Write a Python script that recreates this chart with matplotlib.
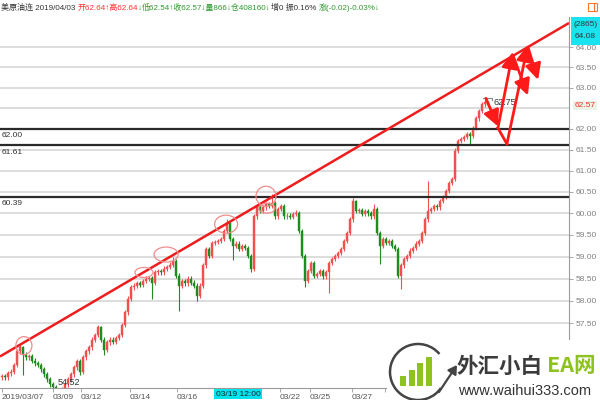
import matplotlib
matplotlib.use('Agg')
import matplotlib.pyplot as plt
from matplotlib.patches import Ellipse, Rectangle, Arc
from matplotlib.transforms import ScaledTranslation
import matplotlib.ticker as mticker

plt.rcParams['font.family'] = ['Liberation Sans', 'Noto Sans CJK SC', 'DejaVu Sans']

# ---------------- data ----------------
opens = [56.30, 56.33, 56.30, 56.39, 56.43, 56.57, 56.87, 56.98, 56.80, 56.74,
         56.76, 56.67, 56.61, 56.57, 56.48, 56.37, 56.26, 56.15, 56.09, 56.00,
         55.93, 56.04, 56.15, 56.26, 56.37, 56.52, 56.65, 56.42, 56.74, 56.87,
         56.96, 57.13, 57.24, 57.41, 57.13, 56.91, 57.07, 57.13, 57.09, 57.17,
         57.24, 57.46, 57.74, 58.05, 58.30, 58.34, 58.39, 58.36, 58.45, 58.50,
         58.52, 58.41, 58.64, 58.68, 58.64, 58.73, 58.77, 58.82, 58.91, 58.57,
         58.34, 58.45, 58.39, 58.50, 58.41, 58.34, 58.11, 58.34, 58.80, 59.18,
         59.02, 59.32, 59.34, 59.36, 59.41, 59.59, 59.77, 59.41, 59.25, 59.30,
         59.18, 59.25, 59.20, 59.02, 58.73, 59.93, 60.17, 60.05, 60.14, 60.21,
         60.17, 60.24, 59.93, 60.10, 60.17, 59.93, 59.95, 59.91, 59.98, 60.00,
         59.59, 59.02, 58.45, 58.68, 58.86, 58.57, 58.60, 58.68, 58.55, 58.64,
         58.86, 58.95, 59.02, 59.09, 59.18, 59.36, 59.55, 59.86, 60.29, 60.05,
         60.08, 59.98, 60.05, 60.00, 59.93, 60.10, 59.55, 59.25, 59.41, 59.32,
         59.36, 59.25, 59.18, 58.57, 58.80, 58.95, 59.02, 59.14, 59.20, 59.30,
         59.36, 59.55, 59.86, 60.05, 60.10, 60.17, 60.14, 60.29, 60.38, 60.52,
         60.71, 60.81, 61.48, 61.71, 61.76, 61.81, 61.88, 61.83, 62.02, 62.25,
         62.44, 62.59, 62.64]
closes = [56.33, 56.30, 56.39, 56.43, 56.57, 56.87, 56.98, 56.80, 56.74, 56.76,
          56.67, 56.61, 56.57, 56.48, 56.37, 56.26, 56.15, 56.09, 56.00, 55.93,
          56.04, 56.15, 56.26, 56.37, 56.52, 56.65, 56.42, 56.74, 56.87, 56.96,
          57.13, 57.24, 57.41, 57.13, 56.91, 57.07, 57.13, 57.09, 57.17, 57.24,
          57.46, 57.74, 58.05, 58.30, 58.34, 58.39, 58.36, 58.45, 58.50, 58.52,
          58.41, 58.64, 58.68, 58.64, 58.73, 58.77, 58.82, 58.91, 58.57, 58.34,
          58.45, 58.39, 58.50, 58.41, 58.34, 58.11, 58.34, 58.80, 59.18, 59.02,
          59.32, 59.34, 59.36, 59.41, 59.59, 59.77, 59.41, 59.25, 59.30, 59.18,
          59.25, 59.20, 59.02, 58.73, 59.93, 60.17, 60.05, 60.14, 60.21, 60.17,
          60.24, 59.93, 60.10, 60.17, 59.93, 59.95, 59.91, 59.98, 60.00, 59.59,
          59.02, 58.45, 58.68, 58.86, 58.57, 58.60, 58.68, 58.55, 58.64, 58.86,
          58.95, 59.02, 59.09, 59.18, 59.36, 59.55, 59.86, 60.29, 60.05, 60.08,
          59.98, 60.05, 60.00, 59.93, 60.10, 59.55, 59.25, 59.41, 59.32, 59.36,
          59.25, 59.18, 58.57, 58.80, 58.95, 59.02, 59.14, 59.20, 59.30, 59.36,
          59.55, 59.86, 60.05, 60.10, 60.17, 60.14, 60.29, 60.38, 60.52, 60.71,
          60.81, 61.48, 61.71, 61.76, 61.81, 61.88, 61.83, 62.02, 62.25, 62.44,
          62.59, 62.64, 62.57]
highs = [56.38, 56.38, 56.44, 56.48, 56.62, 56.92, 57.02, 57.00, 56.85, 56.81,
         56.81, 56.72, 56.66, 56.62, 56.53, 56.42, 56.31, 56.20, 56.14, 56.05,
         56.09, 56.20, 56.31, 56.42, 56.57, 56.70, 56.70, 56.79, 56.92, 57.01,
         57.18, 57.29, 57.46, 57.44, 57.18, 57.12, 57.18, 57.18, 57.22, 57.29,
         57.51, 57.79, 58.10, 58.35, 58.39, 58.44, 58.44, 58.50, 58.55, 58.57,
         58.57, 58.69, 58.73, 58.73, 58.78, 58.82, 58.87, 59.00, 58.94, 58.62,
         58.50, 58.50, 58.55, 58.55, 58.46, 58.39, 58.39, 58.85, 59.23, 59.23,
         59.37, 59.39, 59.41, 59.46, 59.64, 59.86, 59.80, 59.46, 59.35, 59.35,
         59.30, 59.30, 59.25, 59.07, 59.98, 60.22, 60.22, 60.19, 60.26, 60.26,
         60.45, 60.29, 60.15, 60.22, 60.22, 60.00, 60.00, 60.03, 60.08, 60.05,
         59.64, 59.07, 58.73, 58.91, 58.91, 58.65, 58.73, 58.73, 58.69, 58.91,
         59.00, 59.07, 59.14, 59.23, 59.41, 59.60, 59.91, 60.36, 60.32, 60.13,
         60.13, 60.10, 60.10, 60.05, 60.21, 60.15, 59.60, 59.46, 59.46, 59.41,
         59.41, 59.30, 59.23, 58.85, 59.00, 59.07, 59.19, 59.25, 59.35, 59.41,
         59.60, 59.91, 60.76, 60.15, 60.22, 60.22, 60.34, 60.43, 60.57, 60.76,
         60.86, 61.53, 61.76, 61.81, 61.86, 61.93, 61.93, 62.07, 62.30, 62.49,
         62.64, 62.75, 62.64]
lows = [56.25, 56.25, 56.25, 56.34, 56.38, 56.52, 56.82, 56.35, 56.69, 56.69,
        56.62, 56.56, 56.52, 56.43, 56.32, 56.21, 56.10, 55.90, 55.70, 54.52,
        55.80, 55.99, 56.10, 56.21, 56.32, 56.47, 56.35, 56.37, 56.69, 56.82,
        56.91, 57.08, 57.19, 57.08, 56.80, 56.86, 57.02, 57.04, 57.04, 57.12,
        57.19, 57.41, 57.69, 58.00, 58.25, 58.29, 58.31, 58.31, 58.40, 58.45,
        58.05, 58.36, 58.59, 58.59, 58.59, 58.68, 58.72, 58.77, 58.52, 57.78,
        58.29, 58.34, 58.34, 58.36, 58.29, 58.00, 58.06, 58.29, 58.75, 58.97,
        58.97, 59.27, 59.29, 59.31, 59.36, 59.54, 59.36, 58.93, 59.20, 59.13,
        59.13, 59.15, 58.97, 58.64, 58.68, 59.88, 60.00, 60.00, 60.09, 60.12,
        60.12, 59.88, 59.88, 60.05, 59.88, 59.88, 59.86, 59.86, 59.93, 59.54,
        58.97, 58.30, 58.40, 58.63, 58.52, 58.52, 58.55, 58.50, 58.50, 58.18,
        58.81, 58.90, 58.97, 59.04, 59.13, 59.31, 59.50, 59.81, 60.00, 60.00,
        59.93, 59.93, 59.95, 59.88, 59.88, 59.50, 58.84, 59.20, 59.27, 59.27,
        59.20, 59.13, 58.52, 58.27, 58.75, 58.90, 58.97, 59.09, 59.15, 59.25,
        59.31, 59.50, 59.81, 60.00, 60.05, 60.09, 60.09, 60.24, 60.33, 60.47,
        60.66, 60.76, 61.43, 61.66, 61.71, 61.76, 61.64, 61.78, 61.97, 62.20,
        62.39, 62.54, 62.54]

level_prices = [62.00, 61.61, 60.39]
level_labels = ['62.00', '61.61', '60.39']

ytick_values = [57.5, 58.0, 58.5, 59.0, 59.5, 60.0, 60.5, 61.0, 61.5, 62.0, 62.5, 63.0, 63.5, 64.0]
ytick_hidden = [62.5]

xtick_pos = [0, 17, 26.3, 42.7, 58.3, 92.7, 102.7, 116.7, 127.7]
xtick_labels = ['2019/03/07', '03/09', '03/12', '03/14', '03/16', '03/22', '03/25', '03/27', '']
cursor_pos = 78.7
cursor_label = '03/19 12:00'

trend_x = [-0.67, 189.0]
trend_y = [56.76, 64.60]

ell_x = [7.3, 47.3, 54.7, 74.7, 88.0, 88.3]
ell_y = [57.00, 58.64, 59.05, 59.75, 60.40, 60.12]
ell_w = [16, 18, 24, 23, 20, 16]
ell_h = [18, 10, 15, 18, 20, 10]

arrow_start = [(161.3, 62.74), (165.3, 62.02), (168.3, 61.64), (170.3, 63.80), (175.3, 64.00)]
arrow_end = [(165.3, 62.06), (170.3, 63.88), (175.3, 64.05), (175.3, 62.81), (178.7, 63.19)]
line_start = [(165.3, 62.02)]
line_end = [(168.3, 61.64)]

last_price = 62.57
cursor_price = 64.08
cursor_count = '(2865)'
peak_price = 62.75
peak_idx = 161
low_label = '54.52'

title_parts = [
    ('美原油连 2019/04/03 ', '#333333'),
    ('开62.64↑高62.64', '#ff3030'),
    ('↓', '#2e9a2e'),
    ('低62.54↑收62.57↓量866↓仓408160↓', '#2e9a2e'),
    ('增0 振0.16% ', '#333333'),
    ('涨(-0.02)-0.03%↓', '#2e9a2e'),
]

# ---------------- figure ----------------
fig = plt.figure(figsize=(6, 4), dpi=100)
ax = fig.add_axes([0, 12 / 400, 569 / 600, (388 - 17) / 400])
ax.set_yscale('log')
ax.set_xlim(-0.667, 189.0)
ax.set_ylim(56.07, 64.75)

up_c = '#f24f4f'
dn_c = '#1f8c1f'
n = len(closes)
for i in range(n):
    o, h, l, c = opens[i], highs[i], lows[i], closes[i]
    col = up_c if c >= o else dn_c
    ax.vlines(i, l, h, color=col, lw=0.8, zorder=3)
    lo, hi = min(o, c), max(o, c)
    if hi - lo < 0.012:
        hi = lo + 0.012
    ax.bar(i, hi - lo, bottom=lo, width=0.72, color=col, edgecolor=col, lw=0.3, zorder=3)

# grid
for v in ytick_values:
    ax.axhline(v, color='#dadada', lw=1.3, zorder=1)

# levels
for p, lab in zip(level_prices, level_labels):
    ax.axhline(p, color='#2a2a2a', lw=1.6, zorder=4)
    ax.annotate(lab, xy=(0, p), xycoords=('axes fraction', 'data'), xytext=(1.5, -2.5),
                textcoords='offset points', ha='left', va='top', fontsize=6, color='#333333', zorder=5)

# trend line
ax.plot(trend_x, trend_y, color='#ee1c1c', lw=1.8, zorder=5, solid_capstyle='butt')

# ellipses
for cx, cy, w, h in zip(ell_x, ell_y, ell_w, ell_h):
    tr = fig.dpi_scale_trans + ScaledTranslation(cx, cy, ax.transData)
    ax.add_patch(Ellipse((0, 0), w / 100, h / 100, transform=tr, fill=False,
                         ec='#f08c8c', lw=0.9, zorder=6, clip_on=False))

# arrows
for s, e in zip(line_start, line_end):
    ax.plot([s[0], e[0]], [s[1], e[1]], color='#ff1a1a', lw=2.0, zorder=7)
for s, e in zip(arrow_start, arrow_end):
    ax.annotate('', xy=e, xytext=s,
                arrowprops=dict(arrowstyle='-|>,head_length=0.6,head_width=0.3', color='#ff1a1a',
                                lw=2.0, shrinkA=0, shrinkB=0, mutation_scale=16), zorder=7)

# peak label
ax.plot([peak_idx - 0.7, peak_idx + 2.3, peak_idx + 2.3], [peak_price, peak_price, peak_price - 0.05],
        color='#888888', lw=0.8, zorder=6)
ax.text(peak_idx + 2.8, peak_price - 0.11, f'{peak_price:.2f}', fontsize=6.5, color='#333333',
        va='center', ha='left', zorder=6)
ax.text(18.5, 56.19, low_label, fontsize=6.5, color='#333333', va='center', ha='left', zorder=6)

# axes styling
for sp in ['top', 'left']:
    ax.spines[sp].set_visible(False)
ax.spines['right'].set_color('#9a9a9a')
ax.spines['bottom'].set_color('#9a9a9a')
ax.spines['right'].set_linewidth(0.8)
ax.spines['bottom'].set_linewidth(0.8)
ax.yaxis.tick_right()
ax.yaxis.set_major_locator(mticker.FixedLocator([v for v in ytick_values if v not in ytick_hidden]))
ax.yaxis.set_minor_locator(mticker.NullLocator())
ax.yaxis.set_major_formatter(mticker.FormatStrFormatter('%.2f'))
ax.tick_params(axis='y', which='major', length=3, width=0.6, color='#9a9a9a', labelsize=6,
               labelcolor='#808080', pad=2)
ax.set_xticks(xtick_pos)
ax.set_xticklabels(xtick_labels)
for t in ax.get_xticklabels():
    t.set_horizontalalignment('left')
ax.tick_params(axis='x', length=3, width=0.6, color='#9a9a9a', labelsize=6, labelcolor='#555555', pad=1)

# last price label on right axis
ax.annotate(f'{last_price:.2f}', xy=(1, last_price), xycoords=('axes fraction', 'data'),
            xytext=(4, 0), textcoords='offset points', ha='left', va='center', fontsize=6,
            color='#ff2a2a', bbox=dict(boxstyle='square,pad=0.15', fc='#eaf4e6', ec='none'))

# cursor label bottom
ax.annotate(cursor_label, xy=(cursor_pos, 0), xycoords=('data', 'axes fraction'),
            xytext=(0, -2), textcoords='offset points', ha='center', va='top', fontsize=6,
            color='#222222', bbox=dict(boxstyle='square,pad=0.2', fc='#00e4ef', ec='none'), zorder=8)

# ---------------- overlay ----------------
ov = fig.add_axes([0, 0, 1, 1], zorder=10)
ov.set_xlim(0, 600)
ov.set_ylim(400, 0)
ov.axis('off')
ov.patch.set_alpha(0)

# cursor price box
ov.add_patch(Rectangle((571, 17), 29, 28, fc='#19e3ee', ec='none'))
ov.text(585.5, 24, cursor_count, fontsize=6, color='#333333', ha='center', va='center')
ov.text(585.5, 37, f'{cursor_price:.2f}', fontsize=6, color='#333333', ha='center', va='center')
# small icon
ov.add_patch(Rectangle((588, 3), 9, 8, fill=False, ec='#f07830', lw=0.8))
ov.plot([594, 594], [3, 11], color='#f07830', lw=0.8)

# title
renderer = fig.canvas.get_renderer()
xpos = 1.0
for txt, col in title_parts:
    t = ov.text(xpos, 8, txt, fontsize=5.8, color=col, ha='left', va='center')
    bb = t.get_window_extent(renderer)
    xpos += bb.width

# logo watermark
ov.add_patch(Rectangle((387, 340), 213, 60, fc='white', ec='none'))
ov.add_patch(Arc((418, 372), 56, 56, theta1=35, theta2=320, color='#444444', lw=1.8))
ov.annotate('', xy=(457, 365), xytext=(439, 392),
            arrowprops=dict(arrowstyle='-|>,head_length=0.5,head_width=0.3', color='#444444', lw=1.6,
                            shrinkA=0, shrinkB=0, mutation_scale=10))
for bx, top in zip([400, 408.5, 417, 425.5], [376, 370, 363, 357]):
    ov.add_patch(Rectangle((bx, top), 6, 386 - top, fc='#8dc21f', ec='none'))
ov.text(457, 366, '外汇小白', fontsize=15.5, fontweight='bold', color='#3c3c3c', ha='left', va='center',
        family=['Noto Sans CJK SC'])
ov.text(547, 366, 'EA网', fontsize=15.5, fontweight='bold', color='#8dc21f', ha='left', va='center',
        family=['Noto Sans CJK SC'])
ov.text(458, 391, 'www.waihui333.com', fontsize=10.5, color='#333333', ha='left', va='center')

fig.savefig('out.png', dpi=100)
